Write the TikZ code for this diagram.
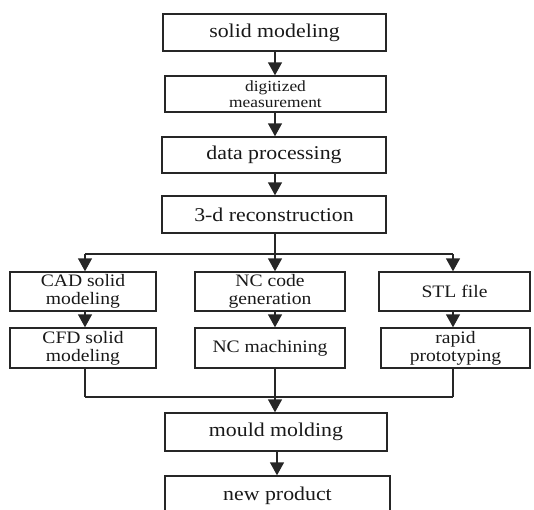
\documentclass[tikz,border=0pt]{standalone}
\usepackage{fontspec}
\setmainfont{Liberation Serif}[FakeStretch=1.12]
\usetikzlibrary{arrows.meta}
\tikzset{
  box/.style={draw=black!85, line width=1.4pt, fill=white, align=center, inner sep=0pt,
    font=\fontsize{19.5}{18}\selectfont, text=black!90},
  smallbox/.style={box, font=\fontsize{15.5}{16}\selectfont},
  midbox/.style={box, font=\fontsize{17.5}{18}\selectfont},
  arr/.style={draw=black!85, line width=1.4pt, -{Triangle[width=14pt,length=13pt]}},
  ln/.style={draw=black!85, line width=1.4pt},
}
\begin{document}
\begin{tikzpicture}[x=1pt,y=-1pt]
\useasboundingbox (0,0) rectangle (534,509);
\clip (0,0) rectangle (534,509);
\coordinate (lx) at (85,0);
\coordinate (mx) at (275,0);
\coordinate (rx) at (453,0);
\coordinate (j1) at (275,254);
\coordinate (jl1) at (85,254);
\coordinate (jr1) at (453,254);
\coordinate (j2) at (275,397);
\coordinate (jl2) at (85,397);
\coordinate (jr2) at (453,397);

\node[box, minimum width=223pt, minimum height=37pt] (solid) at (274.5,32.5) {solid modeling};
\node[smallbox, minimum width=221pt, minimum height=36pt] (digit) at (275.5,94) {digitized\\measurement};
\node[box, minimum width=224pt, minimum height=36pt] (data) at (274,155) {data processing};
\node[box, minimum width=224pt, minimum height=37pt] (recon) at (274,214.5) {3-d reconstruction};

\node[midbox, minimum width=146pt, minimum height=39pt] (cad) at (83,291.5) {CAD solid\\modeling};
\node[midbox, minimum width=150pt, minimum height=39pt] (nccode) at (270,291.5) {NC code\\generation};
\node[midbox, minimum width=151pt, minimum height=39pt] (stl) at (454.5,291.5) {STL file};

\node[midbox, minimum width=146pt, minimum height=40pt] (cfd) at (83,348) {CFD solid\\modeling};
\node[midbox, minimum width=150pt, minimum height=40pt] (ncm) at (270,348) {NC machining};
\node[midbox, minimum width=149pt, minimum height=40pt] (rapid) at (455.5,348) {rapid\\prototyping};

\node[box, minimum width=222pt, minimum height=38pt] (mould) at (276,432) {mould molding};
\node[box, minimum width=225pt, minimum height=40pt] (newp) at (277.5,496) {new product};

\draw[arr] (solid.south -| mx) -- (digit.north -| mx);
\draw[arr] (digit.south -| mx) -- (data.north -| mx);
\draw[arr] (data.south -| mx) -- (recon.north -| mx);
\draw[ln] (recon.south -| mx) -- (j1);
\draw[ln] (jl1) -- (jr1);
\draw[arr] (jl1) -- (cad.north -| lx);
\draw[arr] (j1) -- (nccode.north -| mx);
\draw[arr] (jr1) -- (stl.north -| rx);
\draw[arr] (cad.south -| lx) -- (cfd.north -| lx);
\draw[arr] (nccode.south -| mx) -- (ncm.north -| mx);
\draw[arr] (stl.south -| rx) -- (rapid.north -| rx);
\draw[ln] (cfd.south -| lx) -- (jl2);
\draw[ln] (ncm.south -| mx) -- (j2);
\draw[ln] (rapid.south -| rx) -- (jr2);
\draw[ln] (jl2) -- (jr2);
\draw[arr] (j2) -- (mould.north -| mx);
\draw[arr] (mould.south -| mx) ++(2,0) coordinate (m2) (m2) -- (newp.north -| m2);
\end{tikzpicture}
\end{document}
